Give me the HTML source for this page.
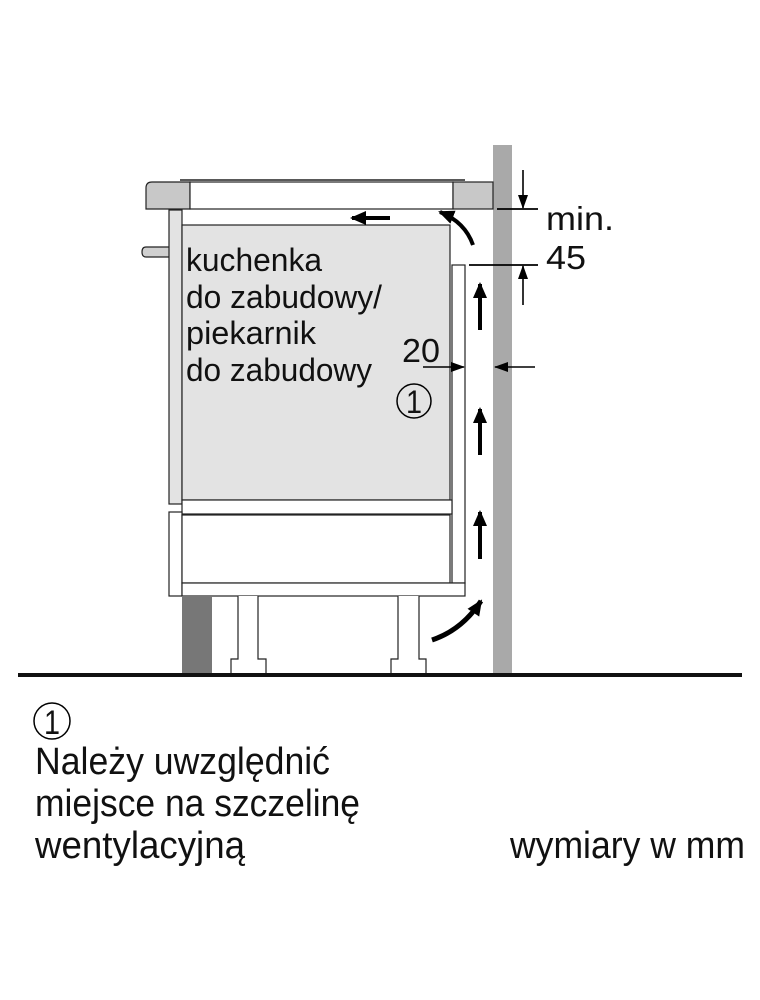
<!DOCTYPE html>
<html><head><meta charset="utf-8"><style>
html,body{margin:0;padding:0;background:#fff;}
svg{display:block;}
text{font-family:"Liberation Sans",sans-serif;fill:#111;}
</style></head><body>
<svg width="760" height="1000" viewBox="0 0 760 1000" xmlns="http://www.w3.org/2000/svg">
<defs>
<marker id="ah" markerWidth="14" markerHeight="10" refX="13" refY="5" orient="auto" markerUnits="userSpaceOnUse"><path d="M0,0 L14,5 L0,10 Z" fill="#000"/></marker>
<marker id="ab" markerWidth="16" markerHeight="14" refX="14" refY="7" orient="auto" markerUnits="userSpaceOnUse"><path d="M0,0 L16,7 L0,14 Z" fill="#000"/></marker>
</defs>
<rect x="493" y="145" width="19" height="530" fill="#a9a9a9"/>
<path d="M152,182 H190 V209 H146 V188 Q146,182 152,182 Z" fill="#c8c8c8" stroke="#222" stroke-width="1.2"/>
<rect x="190" y="182" width="263" height="27" fill="#fff" stroke="#222" stroke-width="1.2"/>
<line x1="180" y1="180" x2="465" y2="180" stroke="#222" stroke-width="1.5"/>
<rect x="453" y="182" width="40" height="27" fill="#c8c8c8" stroke="#222" stroke-width="1.2"/>
<path d="M169,247 H146 Q142,247 142,252 Q142,257 146,257 H169" fill="#d0d0d0" stroke="#222" stroke-width="1.2"/>
<rect x="169" y="210" width="13" height="294" fill="#e3e3e3" stroke="#222" stroke-width="1.2"/>
<rect x="182" y="225" width="268" height="275" fill="#e3e3e3" stroke="#222" stroke-width="1.2"/>
<rect x="452" y="265" width="13" height="318" fill="#fff" stroke="#222" stroke-width="1.2"/>
<rect x="182" y="500" width="270" height="14" fill="#fff" stroke="#222" stroke-width="1.2"/>
<rect x="169" y="512" width="13" height="84" fill="#fff" stroke="#222" stroke-width="1.2"/>
<rect x="182" y="515" width="268" height="68" fill="#fff" stroke="#222" stroke-width="1.2"/>
<rect x="182" y="583" width="283" height="13" fill="#fff" stroke="#222" stroke-width="1.2"/>
<rect x="182" y="596" width="30" height="79" fill="#777"/>
<path d="M238,596 V659 H231 V675 H266 V659 H258 V596" fill="#fff" stroke="#222" stroke-width="1.2"/>
<path d="M398,596 V659 H391 V675 H426 V659 H419 V596" fill="#fff" stroke="#222" stroke-width="1.2"/>
<rect x="18" y="673" width="724" height="4" fill="#111"/>
<line x1="390" y1="218" x2="352" y2="218" stroke="#000" stroke-width="4" marker-end="url(#ab)"/>
<path d="M473,245 Q465,222 440,212" fill="none" stroke="#000" stroke-width="4" marker-end="url(#ab)"/>
<line x1="480" y1="330" x2="480" y2="284" stroke="#000" stroke-width="4" marker-end="url(#ab)"/>
<line x1="480" y1="455" x2="480" y2="409" stroke="#000" stroke-width="4" marker-end="url(#ab)"/>
<line x1="480" y1="559" x2="480" y2="512" stroke="#000" stroke-width="4" marker-end="url(#ab)"/>
<path d="M432,640 Q462,630 481,601" fill="none" stroke="#000" stroke-width="5" marker-end="url(#ab)"/>
<line x1="497" y1="209" x2="538" y2="209" stroke="#000" stroke-width="1.8"/>
<line x1="469" y1="265" x2="538" y2="265" stroke="#000" stroke-width="1.8"/>
<line x1="523" y1="170" x2="523" y2="208" stroke="#000" stroke-width="1.6" marker-end="url(#ah)"/>
<line x1="523" y1="305" x2="523" y2="266" stroke="#000" stroke-width="1.6" marker-end="url(#ah)"/>
<line x1="423" y1="367" x2="464" y2="367" stroke="#000" stroke-width="1.6" marker-end="url(#ah)"/>
<line x1="535" y1="367" x2="495" y2="367" stroke="#000" stroke-width="1.6" marker-end="url(#ah)"/>
<text x="546" y="230" font-size="33" textLength="68" lengthAdjust="spacingAndGlyphs">min.</text>
<text x="546" y="269" font-size="33" textLength="40" lengthAdjust="spacingAndGlyphs">45</text>
<text x="402" y="362" font-size="33" textLength="38" lengthAdjust="spacingAndGlyphs">20</text>
<text x="186" y="271" font-size="32" textLength="136" lengthAdjust="spacingAndGlyphs">kuchenka</text>
<text x="186" y="308" font-size="32" textLength="196" lengthAdjust="spacingAndGlyphs">do zabudowy/</text>
<text x="186" y="344" font-size="32" textLength="130" lengthAdjust="spacingAndGlyphs">piekarnik</text>
<text x="186" y="381" font-size="32" textLength="186" lengthAdjust="spacingAndGlyphs">do zabudowy</text>
<circle cx="414" cy="401" r="17" fill="none" stroke="#000" stroke-width="1.5"/>
<text x="414" y="413" font-size="32" text-anchor="middle" textLength="16" lengthAdjust="spacingAndGlyphs">1</text>
<circle cx="52" cy="721" r="18" fill="none" stroke="#000" stroke-width="1.5"/>
<text x="52" y="734" font-size="34" text-anchor="middle" textLength="16" lengthAdjust="spacingAndGlyphs">1</text>
<text x="35" y="774" font-size="38" textLength="295" lengthAdjust="spacingAndGlyphs">Należy uwzględnić</text>
<text x="35" y="816" font-size="38" textLength="325" lengthAdjust="spacingAndGlyphs">miejsce na szczelinę</text>
<text x="35" y="858" font-size="38" textLength="210" lengthAdjust="spacingAndGlyphs">wentylacyjną</text>
<text x="510" y="858" font-size="38" textLength="235" lengthAdjust="spacingAndGlyphs">wymiary w mm</text>
</svg>
</body></html>
